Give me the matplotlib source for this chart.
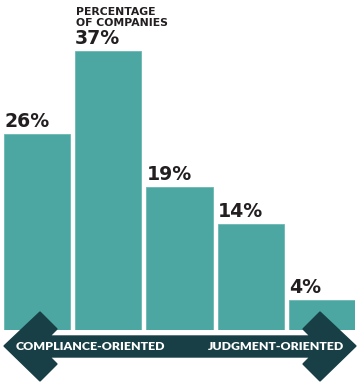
import matplotlib
matplotlib.use('AGG')
import matplotlib.pyplot as plt
from matplotlib.patches import Polygon

# share of companies, from compliance-oriented to judgment-oriented
categories = ['1', '2', '3', '4', '5']
percentages = [26, 37, 19, 14, 4]
labels = ['26%', '37%', '19%', '14%', '4%']

BAR = '#4ca6a1'
INK = '#231f20'
ARROW = '#173f45'
W, H = 360, 386

fig = plt.figure(figsize=(W / 100, H / 100), dpi=100)

# bars
ax = fig.add_axes([4 / W, 1 - 330 / H, 351 / W, 330 / H])
x = range(len(percentages))
ax.bar(x, percentages, width=0.93, color=BAR, edgecolor='#6bb8b3', linewidth=0.6)
ax.set_xlim(-0.465, len(percentages) - 1 + 0.465)
ax.set_ylim(0, 330 / 7.54)
ax.axis('off')

for i, (v, lab) in enumerate(zip(percentages, labels)):
    ax.annotate(lab, (i - 0.465, v), xytext=(0, 3), textcoords='offset pixels',
                ha='left', va='bottom', fontsize=13.6, fontweight='bold',
                family='DejaVu Sans', color=INK)

fig.text(76 / W, 1 - 7 / H, 'PERCENTAGE\nOF COMPANIES', ha='left', va='top',
         fontsize=7.8, fontweight='bold', family='DejaVu Sans', color=INK,
         linespacing=1.12)

# double-headed arrow along the bottom, in pixel coords
arr = fig.add_axes([0, 0, 1, 1], zorder=3)
arr.set_xlim(0, W)
arr.set_ylim(H, 0)
arr.axis('off')
pts = [(4, 346), (40, 312), (57, 329), (50, 336), (310, 336), (303, 329),
       (320, 312), (356, 346), (320, 381), (303, 364), (310, 357),
       (50, 357), (57, 364), (40, 381)]
arr.add_patch(Polygon(pts, closed=True, color=ARROW))
arr.text(16, 347, 'COMPLIANCE-ORIENTED', ha='left', va='center', fontsize=8.9,
         fontweight='heavy', family='Lato', color='white')
arr.text(344, 347, 'JUDGMENT-ORIENTED', ha='right', va='center', fontsize=8.9,
         fontweight='heavy', family='Lato', color='white')

fig.savefig('out.png', dpi=100)
